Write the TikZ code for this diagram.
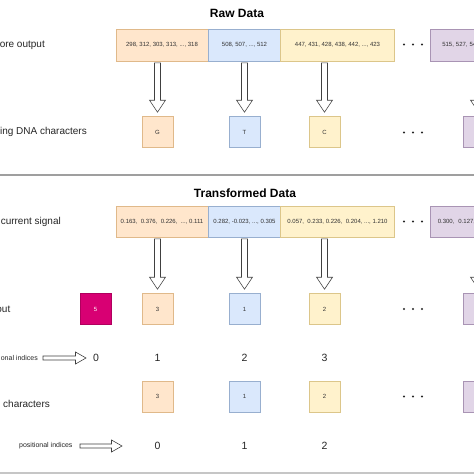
\documentclass[tikz,border=0pt]{standalone}
\usepackage{fontspec}
\setmainfont{Liberation Sans}
\usetikzlibrary{calc}
\definecolor{ofill}{HTML}{FFE6CC}\definecolor{odraw}{HTML}{E0B98A}
\definecolor{bfill}{HTML}{DAE8FC}\definecolor{bdraw}{HTML}{98AFCF}
\definecolor{yfill}{HTML}{FFF2CC}\definecolor{ydraw}{HTML}{DCC68A}
\definecolor{pfill}{HTML}{E1D5E7}\definecolor{pdraw}{HTML}{A994B4}
\definecolor{mfill}{HTML}{D80073}\definecolor{mdraw}{HTML}{B0005E}
\definecolor{txt}{HTML}{333333}
\newcommand\hollowdown[2]{%
  \draw[harrow] let \p1=(#1), \p2=(#2) in
    (\x2-3pt,\y1-1.5pt) -- (\x2-3pt,\y2+16pt) -- (\x2-8pt,\y2+16pt) -- (\x2,\y2+4pt)
    -- (\x2+8pt,\y2+16pt) -- (\x2+3pt,\y2+16pt) -- (\x2+3pt,\y1-1.5pt) -- cycle;}
\newcommand\hollowright[2]{%
  \draw[harrow] let \p1=(#1), \p2=(#2) in
    (\x1,\y1+2pt) -- (\x2-10.5pt,\y1+2pt) -- (\x2-10.5pt,\y1+6pt) -- (\x2,\y1)
    -- (\x2-10.5pt,\y1-6pt) -- (\x2-10.5pt,\y1-2pt) -- (\x1,\y1-2pt) -- cycle;}
\begin{document}
\begin{tikzpicture}[x=1pt,y=-1pt,
  harrow/.style={draw=black!75, fill=white, line width=0.6pt, line join=miter},
  seq/.style={draw, line width=0.6pt, minimum height=32pt, inner sep=0pt, text=txt, font=\fontsize{6}{7}\selectfont},
  sq/.style={draw, line width=0.6pt, minimum width=31pt, minimum height=31pt, inner sep=0pt, text=txt, font=\fontsize{6}{7}\selectfont},
  ob/.style={fill=ofill, draw=odraw}, bb/.style={fill=bfill, draw=bdraw},
  yb/.style={fill=yfill, draw=ydraw}, pb/.style={fill=pfill, draw=pdraw},
  lab/.style={inner sep=0pt, text=black!85, font=\fontsize{10}{12}\selectfont},
  smlab/.style={inner sep=0pt, text=black!85, font=\fontsize{7}{8}\selectfont},
  idx/.style={inner sep=0pt, text=black!85, font=\fontsize{10.5}{12}\selectfont},
  title/.style={inner sep=0pt, text=black, font=\bfseries\fontsize{12}{14}\selectfont}]
\useasboundingbox (0,0) rectangle (474,474);
\clip (0,0) rectangle (474,474);
\fill[white] (0,0) rectangle (474,474);

% ---------- Raw data ----------
\node[title] (t1) at (237,13) {Raw Data};
\node[lab, anchor=east] (l1) at (45,45) {ore output};
\node[lab, anchor=east] (l2) at (87,132) {ing DNA characters};

\node[seq, ob, minimum width=92pt] (r1) at (162,45) {298, 312, 303, 313, ..., 318};
\node[seq, bb, minimum width=72pt] (r2) at (244.5,45) {508, 507, ..., 512};
\node[seq, yb, minimum width=114pt] (r3) at (337.5,45) {447, 431, 428, 438, 442, ..., 423};
\node[seq, pb, minimum width=92pt, anchor=west, align=left, text width=80pt] (r4) at (430,45) {\hspace*{6pt}515, 527, 54};

\node[sq, ob] (c1) at (157.5,132) {G};
\node[sq, bb] (c2) at (244.5,132) {T};
\node[sq, yb] (c3) at (324.5,132) {C};
\node[sq, pb] (c4) at (478.5,132) {};

\hollowdown{r1.south}{c1.north}
\hollowdown{r2.south}{c2.north}
\hollowdown{r3.south}{c3.north}
\hollowdown{r4.south}{c4.north}

\foreach \dx in {-9,0,9} {\fill[black!85] (413+\dx,44.5) circle (1.2pt); \fill[black!85] (413+\dx,132.5) circle (1.2pt);}

\draw[gray!75, line width=1.6pt] (0,174.8) -- (474,174.8);

% ---------- Transformed data ----------
\node[title] (t2) at (245,193) {Transformed Data};
\node[lab, anchor=east] (l3) at (61,222) {current signal};
\node[lab, anchor=east] (l4) at (10.5,309) {out};

\node[seq, ob, minimum width=92pt, minimum height=31pt] (s1) at (162,221.5) {0.163,\ \ 0.376,\ \ 0.226,\ \ ..., 0.111};
\node[seq, bb, minimum width=72pt, minimum height=31pt] (s2) at (244.5,221.5) {0.282, -0.023, ..., 0.305};
\node[seq, yb, minimum width=114pt, minimum height=31pt] (s3) at (337.5,221.5) {0.057,\ \ 0.233, 0.226,\ \ 0.204, ..., 1.210};
\node[seq, pb, minimum width=92pt, minimum height=31pt, anchor=west, align=left, text width=86pt] (s4) at (429.5,221.5) {\hspace*{5pt}0.300,\ \ 0.127,};

\node[sq, fill=mfill, draw=mdraw, text=white] (m5) at (95.5,309) {5};
\node[sq, ob] (d1) at (157.5,309) {3};
\node[sq, bb] (d2) at (244.5,309) {1};
\node[sq, yb] (d3) at (324.5,309) {2};
\node[sq, pb] (d4) at (478.5,309) {};

\hollowdown{s1.south}{d1.north}
\hollowdown{s2.south}{d2.north}
\hollowdown{s3.south}{d3.north}
\hollowdown{s4.south}{d4.north}

\foreach \dx in {-9,0,9} {\fill[black!85] (413+\dx,221.5) circle (1.2pt); \fill[black!85] (413+\dx,309) circle (1.2pt);}

% positional indices row 1
\node[smlab, anchor=east] (p1) at (38,358) {onal indices};
\node[idx] (i0) at (96,358) {0};
\node[idx] (i1) at (157.5,358) {1};
\node[idx] (i2) at (244.5,358) {2};
\node[idx] (i3) at (324.5,358) {3};
\coordinate (p1s) at (43,358);
\coordinate (p1e) at (86,358);
\hollowright{p1s}{p1e}

% characters row
\node[lab, anchor=west] (l5) at (3,404) {characters};
\node[sq, ob] (e1) at (157.5,396.5) {3};
\node[sq, bb] (e2) at (244.5,396.5) {1};
\node[sq, yb] (e3) at (324.5,396.5) {2};
\node[sq, pb] (e4) at (478.5,396.5) {};
\foreach \dx in {-9,0,9} {\fill[black!85] (413+\dx,396.5) circle (1.2pt);}

% positional indices row 2
\node[smlab, anchor=west] (p2) at (19,446) {positional indices};
\node[idx] (j0) at (157.5,446) {0};
\node[idx] (j1) at (244.5,446) {1};
\node[idx] (j2) at (324.5,446) {2};
\coordinate (p2s) at (80,446);
\coordinate (p2e) at (122,446);
\hollowright{p2s}{p2e}

\fill[gray!45] (0,472) rectangle (474,474);
\end{tikzpicture}
\end{document}
